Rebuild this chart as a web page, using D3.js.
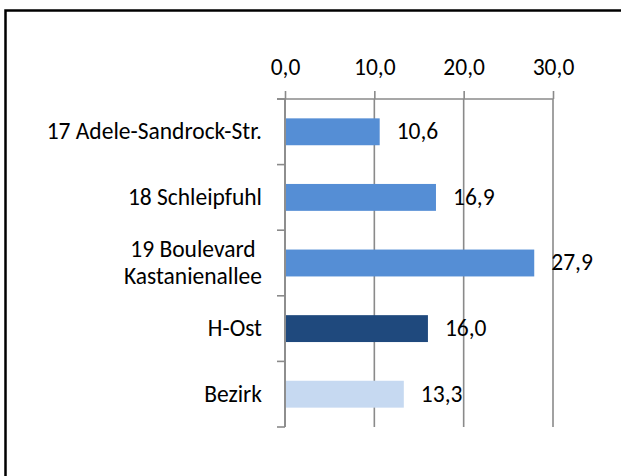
<!DOCTYPE html>
<html>
<head>
<meta charset="utf-8">
<script src="https://cdn.jsdelivr.net/npm/d3@7"></script>
<style>
  html, body { margin: 0; padding: 0; background: #fff; overflow: hidden; }
  svg { display: block; font-family: Carlito, Calibri, Lato, sans-serif; }
</style>
</head>
<body>
<div id="chart"></div>
<script>
// Data
const categories = ['17 Adele-Sandrock-Str.', '18 Schleipfuhl', '19 Boulevard\nKastanienallee', 'H-Ost', 'Bezirk'];
const values = [10.6, 16.9, 27.9, 16.0, 13.3];
const barColors = ['#558ED5', '#558ED5', '#558ED5', '#1F497D', '#C6D9F1'];
const xTicks = [0, 10, 20, 30];

const width = 621;
const height = 476;
const fontSize = 23.5;
const gridColor = '#8a8a8a';

const deFormat = d3.formatLocale({ decimal: ',', thousands: '.', grouping: [3], currency: ['', ' €'] }).format('.1f');

const svg = d3.select('#chart')
  .append('svg')
  .attr('width', width)
  .attr('height', height);

// outer frame (runs past the right and bottom edges)
svg.append('rect')
  .attr('x', 5.5)
  .attr('y', 10.5)
  .attr('width', 700)
  .attr('height', 600)
  .attr('fill', 'none')
  .attr('stroke', '#000')
  .attr('stroke-width', 2.5);

const plot = { top: 99, bottom: 427, left: 285, right: 553 };

const xScale = d3.scaleLinear().domain([0, 30]).range([plot.left, plot.right]);
const yScale = d3.scaleBand()
  .domain(categories)
  .range([plot.top, plot.bottom])
  .paddingInner(0.59)
  .paddingOuter(0.295);

// vertical gridlines
svg.append('g')
  .attr('class', 'grid')
  .selectAll('line')
  .data(xTicks)
  .join('line')
  .attr('x1', (d) => xScale(d))
  .attr('x2', (d) => xScale(d))
  .attr('y1', plot.top)
  .attr('y2', plot.bottom)
  .attr('stroke', gridColor)
  .attr('stroke-width', 1.6);

// top value axis
const xAxis = d3.axisTop(xScale)
  .tickValues(xTicks)
  .tickFormat(deFormat)
  .tickSizeInner(8)
  .tickSizeOuter(0)
  .tickPadding(16);

const gx = svg.append('g')
  .attr('transform', `translate(0, ${plot.top})`)
  .call(xAxis);
gx.select('.domain').remove();
gx.selectAll('.tick line').attr('stroke', gridColor).attr('stroke-width', 1.6);
gx.selectAll('.tick text')
  .attr('fill', '#000')
  .style('font-size', fontSize + 'px')
  .style('font-family', 'Carlito, Calibri, Lato, sans-serif');
gx.append('line')
  .attr('x1', plot.left - 8)
  .attr('x2', plot.right)
  .attr('stroke', gridColor)
  .attr('stroke-width', 1.6);

// category axis with ticks between bands
const step = yScale.step();
const bounds = d3.range(categories.length + 1).map((i) => plot.top + i * step);
const gy = svg.append('g');
gy.append('line')
  .attr('x1', plot.left)
  .attr('x2', plot.left)
  .attr('y1', plot.top)
  .attr('y2', plot.bottom)
  .attr('stroke', gridColor)
  .attr('stroke-width', 1.6);
gy.selectAll('line.tick')
  .data(bounds)
  .join('line')
  .attr('class', 'tick')
  .attr('x1', plot.left - 8)
  .attr('x2', plot.left)
  .attr('y1', (d) => d)
  .attr('y2', (d) => d)
  .attr('stroke', gridColor)
  .attr('stroke-width', 1.6);

// bars
svg.append('g')
  .selectAll('rect')
  .data(categories)
  .join('rect')
  .attr('x', xScale(0) + 1)
  .attr('y', (d) => yScale(d))
  .attr('width', (d, i) => xScale(values[i]) - xScale(0) - 1)
  .attr('height', yScale.bandwidth())
  .attr('fill', (d, i) => barColors[i]);

// value labels
svg.append('g')
  .selectAll('text')
  .data(categories)
  .join('text')
  .attr('x', (d, i) => xScale(values[i]) + 17)
  .attr('y', (d) => yScale(d) + yScale.bandwidth() / 2 + 7.4)
  .style('font-size', fontSize + 'px')
  .attr('fill', '#000')
  .text((d, i) => deFormat(values[i]));

// category labels (right aligned block, wrapped lines centred)
const labelRight = 262;
const lineGap = 27.6;
categories.forEach((cat) => {
  const lines = cat.split('\n');
  const cy = yScale(cat) + yScale.bandwidth() / 2;
  const g = svg.append('g');
  const texts = lines.map((line, k) => g.append('text')
    .attr('y', cy + (k - (lines.length - 1) / 2) * lineGap + 7.4)
    .style('font-size', fontSize + 'px')
    .attr('fill', '#000')
    .text(line));
  const maxW = d3.max(texts, (t) => t.node().getComputedTextLength());
  texts.forEach((t) => {
    t.attr('x', labelRight - maxW / 2).attr('text-anchor', 'middle');
  });
});
</script>
</body>
</html>
